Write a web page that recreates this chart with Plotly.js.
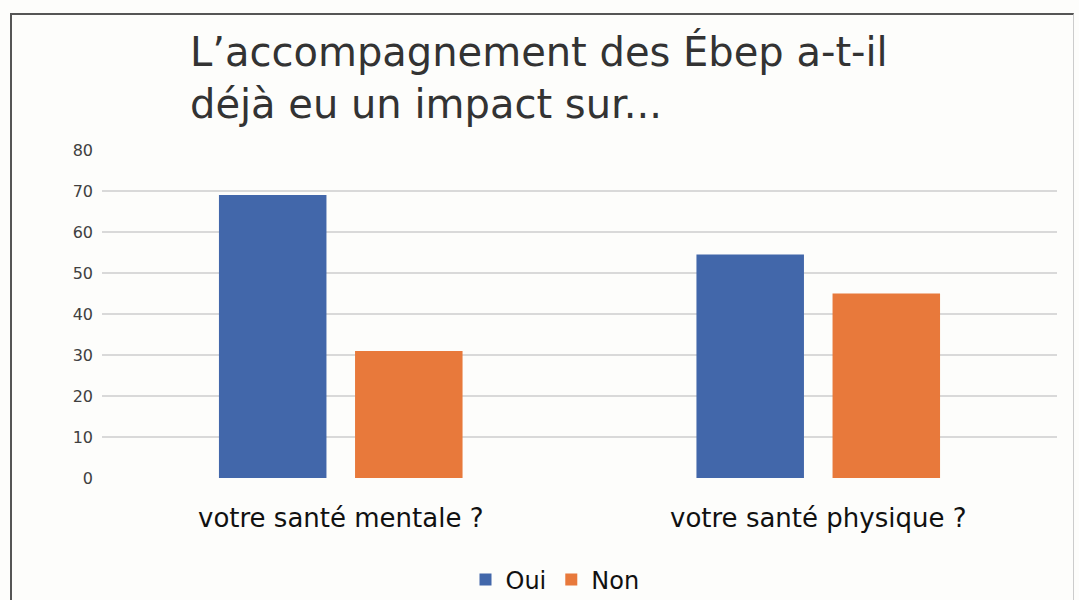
<!DOCTYPE html>
<html>
<head>
<meta charset="utf-8">
<script src="https://cdn.plot.ly/plotly-3.0.1.min.js"></script>
<style>
  html, body { margin:0; padding:0; background:#ffffff; }
  #wrap { position:relative; width:1079px; height:600px; overflow:hidden; }
  #chart { width:1079px; height:600px; }
  #frame { position:absolute; left:10px; top:13px; width:1064px; height:640px; border:2px solid #555; border-right:1px solid #ccc; pointer-events:none; box-sizing:border-box; }
</style>
</head>
<body>
<div id="wrap">
<div id="chart"></div>
<div id="frame"></div>
</div>
<script>
const categories = ["votre santé mentale ?", "votre santé physique ?"];
const oui = [69, 54.5];
const non = [31, 45];
const seriesNames = ["Oui", "Non"];
const yTicks = [0, 10, 20, 30, 40, 50, 60, 70, 80];

const font = "DejaVu Sans, Verdana, sans-serif";

const data = [
  { type: "bar", name: seriesNames[0], x: categories, y: oui, marker: { color: "#4267AA" } },
  { type: "bar", name: seriesNames[1], x: categories, y: non, marker: { color: "#E8793B" } }
];

const layout = {
  width: 1079, height: 600,
  paper_bgcolor: "#fdfdfb", plot_bgcolor: "#fdfdfb",
  margin: { l: 102, r: 22, t: 150, b: 122 },
  barmode: "group", bargap: 0.43, bargroupgap: 0.21,
  title: {
    text: "L’accompagnement des Ébep a-t-il<br>déjà eu un impact sur...",
    x: 190 / 1079, xref: "container", xanchor: "left",
    y: 1 - 66 / 600, yref: "container", yanchor: "top",
    font: { family: font, size: 40, color: "#333333" }
  },
  xaxis: {
    type: "category",
    tickfont: { family: font, size: 26, color: "#111111" },
    showgrid: false, zeroline: false, showline: false,
    ticks: "", ticklabelstandoff: 22
  },
  yaxis: {
    range: [0, 80], tickvals: yTicks, ticktext: yTicks.map(String),
    tickfont: { family: font, size: 16, color: "#404040" },
    showgrid: true, gridcolor: "#d9d9d9", gridwidth: 1.5,
    zeroline: false, showline: false, ticks: "", ticklabelstandoff: 8
  },
  showlegend: true,
  legend: {
    orientation: "h", xref: "container", yref: "container",
    x: 555 / 1079, xanchor: "center", y: 1 - 580 / 600, yanchor: "middle",
    font: { family: font, size: 24, color: "#111111" },
    itemwidth: 30, traceorder: "normal"
  }
};

Plotly.newPlot("chart", data, layout, { displayModeBar: false, staticPlot: true });
</script>
</body>
</html>
